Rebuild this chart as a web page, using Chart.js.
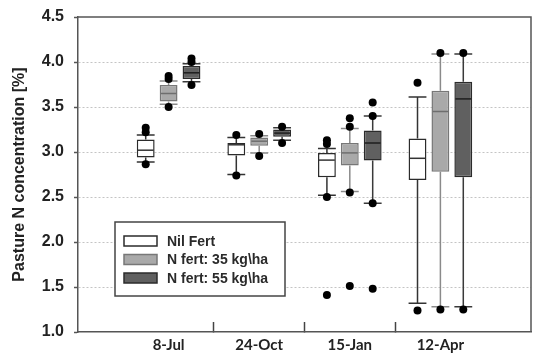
<!DOCTYPE html>
<html>
<head>
<meta charset="utf-8">
<script src="https://cdn.jsdelivr.net/npm/chart.js@4.4.0/dist/chart.umd.min.js"></script>
<style>
  html, body { margin: 0; padding: 0; background: #fff; }
  #wrap { width: 533px; height: 356px; }
</style>
</head>
<body>
<div id="wrap"><canvas id="boxChart"></canvas></div>
<script>
// sampling dates, first and last slot left empty as padding
const dates = ['', '8-Jul', '24-Oct', '15-Jan', '12-Apr', ''];
const seriesNames = ['Nil Fert', 'N fert: 35 kg\\ha', 'N fert: 55 kg\\ha'];

// Nil Fert
const nilQ1 = [null, 2.94, 2.96, 2.72, 2.69, null];
const nilQ3 = [null, 3.14, 3.10, 2.99, 3.15, null];
const nilMedian = [null, 3.02, 3.08, 2.91, 2.93, null];
const nilLow = [null, 2.89, 2.75, 2.52, 1.32, null];
const nilHigh = [null, 3.19, 3.16, 3.04, 3.61, null];
const nilOutliers = [[], [3.27, 3.22, 2.865], [3.19, 2.74], [3.13, 3.09, 2.50, 1.41], [3.77, 1.24], []];

// N fert 35 kg/ha
const n35Q1 = [null, 3.56, 3.07, 2.85, 2.78, null];
const n35Q3 = [null, 3.745, 3.16, 3.10, 3.68, null];
const n35Median = [null, 3.65, 3.12, 2.99, 3.45, null];
const n35Low = [null, 3.53, 2.99, 2.56, 1.28, null];
const n35High = [null, 3.79, 3.18, 3.26, 4.09, null];
const n35Outliers = [[], [3.845, 3.81, 3.50], [3.20, 2.955], [3.375, 3.28, 2.55, 1.51], [4.10, 1.25], []];

// N fert 55 kg/ha
const n55Q1 = [null, 3.81, 3.17, 2.905, 2.72, null];
const n55Q3 = [null, 3.955, 3.25, 3.24, 3.78, null];
const n55Median = [null, 3.88, 3.21, 3.10, 3.59, null];
const n55Low = [null, 3.78, 3.13, 2.43, 1.28, null];
const n55High = [null, 3.98, 3.27, 3.40, 4.09, null];
const n55Outliers = [[], [4.04, 4.00, 3.745], [3.28, 3.10], [3.55, 3.40, 2.43, 1.48], [4.10, 1.25], []];

const yTicks = [1.0, 1.5, 2.0, 2.5, 3.0, 3.5, 4.0, 4.5];

const fills = ['#ffffff', '#a9a9a9', '#606060'];
const edges = ['#2b2b2b', '#777777', '#2b2b2b'];
const whiskerColors = ['#333333', '#8a8a8a', '#3a3a3a'];
const medianColors = ['#333333', '#6e6e6e', '#1e1e1e'];

const stats = [
  { q1: nilQ1, q3: nilQ3, med: nilMedian, lo: nilLow, hi: nilHigh, out: nilOutliers },
  { q1: n35Q1, q3: n35Q3, med: n35Median, lo: n35Low, hi: n35High, out: n35Outliers },
  { q1: n55Q1, q3: n55Q3, med: n55Median, lo: n55Low, hi: n55High, out: n55Outliers }
];

function boxRange(s) {
  return s.q1.map((v, i) => v === null ? null : [v, s.q3[i]]);
}

// whiskers + caps behind the boxes, medians + outliers on top
const boxExtras = {
  id: 'boxExtras',
  beforeDatasetsDraw(chart) {
    const ctx = chart.ctx, y = chart.scales.y;
    stats.forEach((s, d) => {
      const meta = chart.getDatasetMeta(d);
      meta.data.forEach((el, i) => {
        if (s.q1[i] === null) return;
        const half = el.width / 2;
        ctx.save();
        ctx.strokeStyle = whiskerColors[d];
        ctx.lineWidth = 1.5;
        ctx.beginPath();
        ctx.moveTo(el.x, y.getPixelForValue(s.q3[i]));
        ctx.lineTo(el.x, y.getPixelForValue(s.hi[i]));
        ctx.moveTo(el.x, y.getPixelForValue(s.q1[i]));
        ctx.lineTo(el.x, y.getPixelForValue(s.lo[i]));
        ctx.moveTo(el.x - half, y.getPixelForValue(s.hi[i]));
        ctx.lineTo(el.x + half, y.getPixelForValue(s.hi[i]));
        ctx.moveTo(el.x - half, y.getPixelForValue(s.lo[i]));
        ctx.lineTo(el.x + half, y.getPixelForValue(s.lo[i]));
        ctx.stroke();
        ctx.restore();
      });
    });
  },
  afterDatasetsDraw(chart) {
    const ctx = chart.ctx, y = chart.scales.y;
    stats.forEach((s, d) => {
      const meta = chart.getDatasetMeta(d);
      meta.data.forEach((el, i) => {
        if (s.q1[i] === null) return;
        const half = el.width / 2;
        ctx.save();
        ctx.strokeStyle = medianColors[d];
        ctx.lineWidth = 1.5;
        ctx.beginPath();
        ctx.moveTo(el.x - half + 1, y.getPixelForValue(s.med[i]));
        ctx.lineTo(el.x + half - 1, y.getPixelForValue(s.med[i]));
        ctx.stroke();
        ctx.fillStyle = '#000';
        s.out[i].forEach(v => {
          ctx.beginPath();
          ctx.arc(el.x, y.getPixelForValue(v), 4, 0, Math.PI * 2);
          ctx.fill();
        });
        ctx.restore();
      });
    });
  },
  afterDraw(chart) {
    const ctx = chart.ctx, a = chart.chartArea;
    // top and right frame
    ctx.save();
    ctx.strokeStyle = '#555';
    ctx.lineWidth = 1.5;
    ctx.beginPath();
    ctx.moveTo(a.left, a.top);
    ctx.lineTo(a.right, a.top);
    ctx.lineTo(a.right, a.bottom);
    ctx.stroke();

    // legend box
    const lx = 115, ly = 222, lw = 170, lh = 74;
    ctx.fillStyle = '#fff';
    ctx.fillRect(lx, ly, lw, lh);
    ctx.strokeStyle = '#444';
    ctx.strokeRect(lx, ly, lw, lh);
    ctx.font = 'bold 14px "Liberation Sans", Arial, sans-serif';
    ctx.textBaseline = 'middle';
    chart.data.datasets.forEach((ds, d) => {
      const cy = 241 + d * 18.5;
      ctx.fillStyle = fills[d];
      ctx.fillRect(124, cy - 5, 33, 10);
      ctx.strokeStyle = edges[d];
      ctx.lineWidth = 1.5;
      ctx.strokeRect(124, cy - 5, 33, 10);
      ctx.fillStyle = '#2a2a2a';
      ctx.fillText(ds.label, 167, cy + 1);
    });
    ctx.restore();
  }
};

new Chart(document.getElementById('boxChart'), {
  type: 'bar',
  data: {
    labels: dates,
    datasets: stats.map((s, d) => ({
      label: seriesNames[d],
      data: boxRange(s),
      backgroundColor: fills[d],
      borderColor: edges[d],
      borderWidth: 1.5,
      borderSkipped: false,
      categoryPercentage: 0.758,
      barPercentage: 0.78
    }))
  },
  options: {
    responsive: true,
    maintainAspectRatio: false,
    animation: false,
    layout: { padding: { top: 17, right: 2, left: 0, bottom: 0 } },
    plugins: {
      legend: { display: false },
      tooltip: { enabled: false }
    },
    scales: {
      x: {
        type: 'category',
        offset: false,
        afterFit: s => { s.height = 24; s.paddingLeft = 0; s.paddingRight = 0; },
        border: { color: '#555', width: 1.5 },
        grid: {
          offset: true,
          drawOnChartArea: false,
          color: c => (c.index >= 2 && c.index <= 4) ? '#444' : 'rgba(0,0,0,0)',
          tickLength: -10,
          tickWidth: 1.5
        },
        ticks: {
          autoSkip: false,
          maxRotation: 0,
          padding: 14,
          color: '#222',
          font: { family: 'Lato', size: 15, weight: 'bold' }
        }
      },
      y: {
        min: 1,
        max: 4.5,
        afterFit: s => { s.width = 78; s.paddingTop = 0; s.paddingBottom = 0; },
        afterBuildTicks: s => { s.ticks = yTicks.map(v => ({ value: v })); },
        border: { color: '#555', width: 1.5, dash: [2, 2] },
        grid: {
          color: c => (c.tick && (c.tick.value === 1 || c.tick.value === 4.5)) ? 'rgba(0,0,0,0)' : '#c4c4c4',
          tickColor: '#555',
          tickLength: 4,
          tickWidth: 1.5
        },
        ticks: {
          padding: 10,
          color: '#222',
          font: { family: '"Liberation Sans", Arial, sans-serif', size: 16, weight: 'bold' },
          callback: v => Number(v).toFixed(1)
        },
        title: {
          display: true,
          text: 'Pasture N concentration [%]',
          color: '#222',
          font: { family: '"Liberation Sans", Arial, sans-serif', size: 16, weight: 'bold' },
          padding: { top: 10, bottom: 0 }
        }
      }
    }
  },
  plugins: [boxExtras]
});
</script>
</body>
</html>
